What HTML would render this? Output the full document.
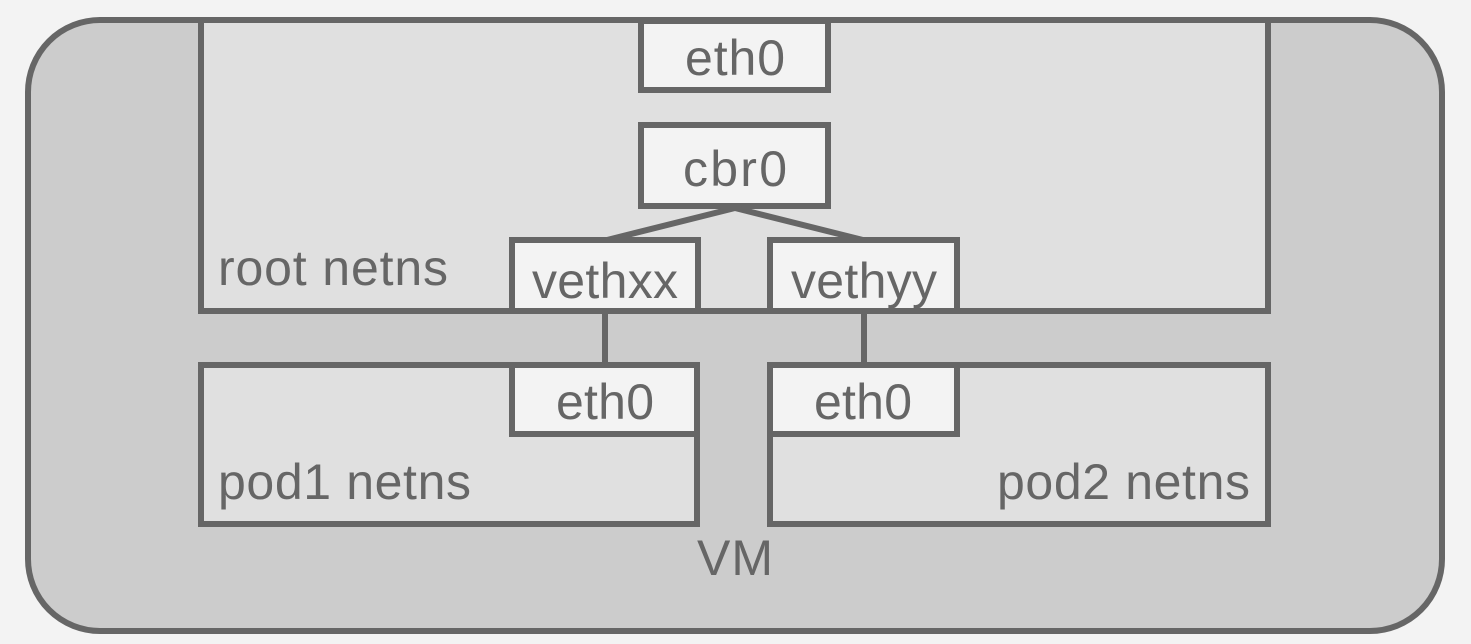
<!DOCTYPE html>
<html><head><style>
html,body{margin:0;padding:0;background:#f3f3f3;}
svg{display:block;}
text{font-family:"Liberation Sans",sans-serif;fill:#666;font-size:50px;}
</style></head><body>
<svg width="1471" height="644" viewBox="0 0 1471 644">
<rect width="1471" height="644" fill="#f3f3f3"/>
<rect x="28" y="20" width="1414" height="611" rx="72" fill="#cccccc" stroke="#666" stroke-width="6"/>
<rect x="201" y="20" width="1067" height="291" fill="#e0e0e0" stroke="#666" stroke-width="6"/>
<rect x="641" y="21" width="187" height="69" fill="#f3f3f3" stroke="#666" stroke-width="6"/>
<rect x="641" y="125" width="187" height="81" fill="#f3f3f3" stroke="#666" stroke-width="6"/>
<line x1="735" y1="208" x2="607" y2="240" stroke="#666" stroke-width="6"/>
<line x1="735" y1="208" x2="863" y2="240" stroke="#666" stroke-width="6"/>
<rect x="512" y="240" width="186" height="71" fill="#f3f3f3" stroke="#666" stroke-width="6"/>
<rect x="770" y="240" width="187" height="71" fill="#f3f3f3" stroke="#666" stroke-width="6"/>
<line x1="605" y1="311" x2="605" y2="365" stroke="#666" stroke-width="6"/>
<line x1="864" y1="311" x2="864" y2="365" stroke="#666" stroke-width="6"/>
<rect x="201" y="365" width="496" height="159" fill="#e0e0e0" stroke="#666" stroke-width="6"/>
<rect x="512" y="365" width="185" height="69" fill="#f3f3f3" stroke="#666" stroke-width="6"/>
<rect x="770" y="365" width="498" height="159" fill="#e0e0e0" stroke="#666" stroke-width="6"/>
<rect x="770" y="365" width="187" height="69" fill="#f3f3f3" stroke="#666" stroke-width="6"/>
<text x="735" y="75" text-anchor="middle" textLength="100">eth0</text>
<text x="735" y="186" text-anchor="middle" textLength="104">cbr0</text>
<text x="605" y="298" text-anchor="middle" textLength="146">vethxx</text>
<text x="864" y="298" text-anchor="middle" textLength="146">vethyy</text>
<text x="218" y="285" textLength="230">root netns</text>
<text x="605" y="419" text-anchor="middle" textLength="98">eth0</text>
<text x="863" y="419" text-anchor="middle" textLength="98">eth0</text>
<text x="218" y="499" textLength="253">pod1 netns</text>
<text x="997" y="499" textLength="253">pod2 netns</text>
<text x="735" y="575" text-anchor="middle" textLength="76">VM</text>
</svg>
</body></html>
